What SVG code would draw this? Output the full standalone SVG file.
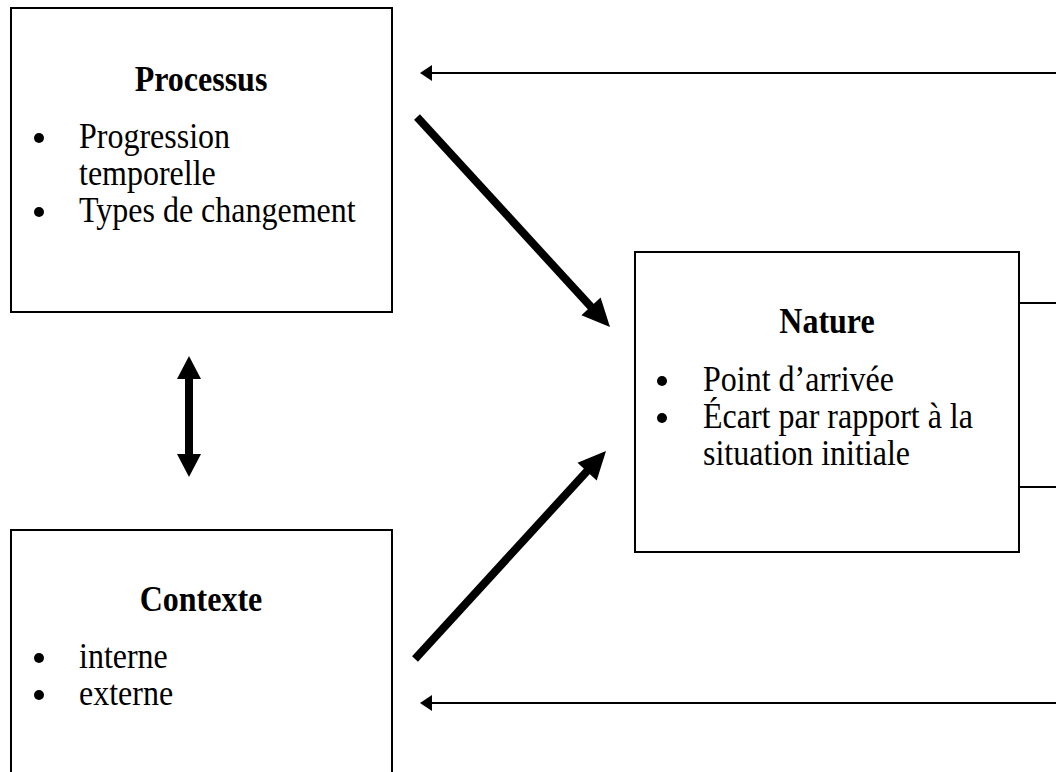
<svg xmlns="http://www.w3.org/2000/svg" width="1056" height="772" viewBox="0 0 1056 772">
<style>
.box{fill:#fff;stroke:#000;stroke-width:2}
.t{font-family:"Liberation Serif","Times New Roman",serif;font-size:32px;fill:#000}
.b{font-weight:bold;text-anchor:middle}
.thin{stroke:#000;stroke-width:2;fill:none}
.thick{stroke:#000;stroke-width:8;fill:none}
.head{fill:#000}
</style>
<rect width="1056" height="772" fill="#fff"/>
<g id="processus">
<rect class="box" x="11" y="8" width="381" height="304"/>
<text class="t b" transform="translate(201 91) scale(1 1.1)">Processus</text>
<circle cx="39" cy="138" r="5"/>
<text class="t" transform="translate(79 148) scale(1 1.1)">Progression</text>
<text class="t" transform="translate(79 185) scale(1 1.1)">temporelle</text>
<circle cx="39" cy="212" r="5"/>
<text class="t" transform="translate(79 222) scale(1 1.1)">Types de changement</text>
</g>
<g id="nature">
<rect class="box" x="635" y="252" width="384" height="300"/>
<text class="t b" transform="translate(827 333) scale(1 1.1)">Nature</text>
<circle cx="662" cy="381" r="5"/>
<text class="t" transform="translate(703 391) scale(1 1.1)">Point d’arrivée</text>
<circle cx="662" cy="418" r="5"/>
<text class="t" transform="translate(703 428) scale(1 1.1)">Écart par rapport à la</text>
<text class="t" transform="translate(703 465) scale(1 1.1)">situation initiale</text>
</g>
<g id="contexte">
<rect class="box" x="11" y="530" width="381" height="260"/>
<text class="t b" transform="translate(201 611) scale(1 1.1)">Contexte</text>
<circle cx="39" cy="658" r="5"/>
<text class="t" transform="translate(79 668) scale(1 1.1)">interne</text>
<circle cx="39" cy="695" r="5"/>
<text class="t" transform="translate(79 705) scale(1 1.1)">externe</text>
</g>
<g id="connectors">
<line class="thin" x1="430" y1="73" x2="1056" y2="73"/>
<polygon class="head" points="420,73 432,65 432,81"/>
<line class="thin" x1="430" y1="703" x2="1056" y2="703"/>
<polygon class="head" points="420,703 432,695 432,711"/>
<line class="thin" x1="1019" y1="303" x2="1056" y2="303"/>
<line class="thin" x1="1019" y1="487" x2="1056" y2="487"/>
<line class="thick" x1="417" y1="117" x2="593" y2="309"/>
<polygon class="head" points="610,327 581.4,315.2 600.6,297.6"/>
<line class="thick" x1="415" y1="659" x2="589" y2="469"/>
<polygon class="head" points="606,451 596.7,480.4 577.5,462.8"/>
<line class="thick" x1="189" y1="377" x2="189" y2="456"/>
<polygon class="head" points="189,356 177,379 201,379"/>
<polygon class="head" points="189,477 177,454 201,454"/>
</g>
</svg>
